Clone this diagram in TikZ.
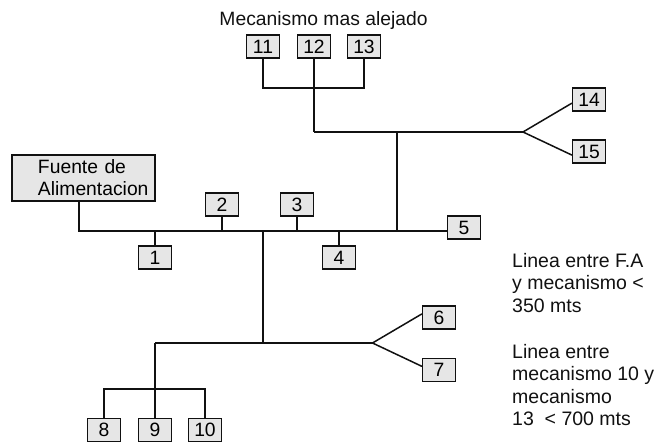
\documentclass[tikz,border=0pt]{standalone}
\usepackage{fontspec}
\setmainfont{Liberation Sans}
\definecolor{boxgray}{HTML}{E6E6E6}
\definecolor{ink}{HTML}{111111}
\tikzset{
  wire/.style={draw=ink,line width=1.5pt,line join=miter},
  numbox/.style={draw=ink,fill=boxgray,line width=1.1pt,minimum width=33pt,minimum height=23pt,inner sep=0pt,font=\fontsize{19.3pt}{21pt}\selectfont},
  srcbox/.style={draw=ink,fill=boxgray,line width=1.1pt,text width=137pt,minimum height=46pt,inner xsep=3pt,inner ysep=0pt,align=left,font=\fontsize{19.3pt}{22pt}\selectfont},
  note/.style={anchor=north west,inner sep=0pt,align=left,font=\fontsize{19.5pt}{22.5pt}\selectfont,text=ink},
  heading/.style={inner sep=0pt,font=\fontsize{19.3pt}{21pt}\selectfont,text=ink}
}
\begin{document}
\begin{tikzpicture}[x=1pt,y=-1pt]
\useasboundingbox (0,0) rectangle (657,443);
% boxes
\node[srcbox] (fa) at (83.5,178) {\hspace*{23pt}Fuente de\\\hspace*{23pt}Alimentacion};
\node[numbox] (n1) at (155,257.5) {1};
\node[numbox] (n2) at (222,204.5) {2};
\node[numbox] (n3) at (297,204.5) {3};
\node[numbox] (n4) at (339,257.5) {4};
\node[numbox] (n5) at (464,227.5) {5};
\node[numbox] (n6) at (439,317.5) {6};
\node[numbox] (n7) at (439,370) {7};
\node[numbox] (n8) at (104,430) {8};
\node[numbox] (n9) at (155,430) {9};
\node[numbox] (n10) at (205,430) {10};
\node[numbox] (n11) at (263,46.5) {11};
\node[numbox] (n12) at (314,46.5) {12};
\node[numbox] (n13) at (364,46.5) {13};
\node[numbox] (n14) at (589,99.5) {14};
\node[numbox] (n15) at (589,151.5) {15};
% junctions
\coordinate (busL) at (79,231);
\coordinate (busA) at (155,231);
\coordinate (busB) at (222,231);
\coordinate (busC) at (263,231);
\coordinate (busD) at (297,231);
\coordinate (busE) at (339,231);
\coordinate (busF) at (397,231);
\coordinate (lowJ) at (263,343);
\coordinate (lowL) at (155,343);
\coordinate (lowR) at (372.5,343);
\coordinate (subL) at (104,389);
\coordinate (subR) at (205,389);
\coordinate (upJ) at (397,132);
\coordinate (upL) at (314,132);
\coordinate (upR) at (523,132);
\coordinate (topL) at (263,88);
\coordinate (topR) at (364,88);
% wires
\draw[wire] (fa.south -| busL) -- (busL) -- (busL -| n5.west);
\draw[wire] (busA) -- (n1.north);
\draw[wire] (busB) -- (n2.south);
\draw[wire] (busD) -- (n3.south);
\draw[wire] (busE) -- (n4.north);
\draw[wire] (busC) -- (lowJ);
\draw[wire] (lowL) -- (lowR);
\draw[wire] (lowL) -- (n9.north);
\draw[wire] (n8.north) -- (subL) -- (subR) -- (n10.north);
\draw[wire] (busF) -- (upJ);
\draw[wire] (upL) -- (upR);
\draw[wire] (upL) -- (n12.south);
\draw[wire] (n11.south) -- (topL) -- (topR) -- (n13.south);
\draw[wire] (lowR) -- (n6.168);
\draw[wire] (lowR) -- (n7.168);
\draw[wire] (upR) -- (n14.192);
\draw[wire] (upR) -- (n15.192);
% texts
\node[heading] (title) at (323.5,21) {Mecanismo mas alejado};
\node[note] (note1) at (512,253) {Linea entre F.A\\y mecanismo <\\350 mts};
\node[note] (note2) at (512,344) {Linea entre\\mecanismo 10 y\\mecanismo\\13\ \ < 700 mts};
\end{tikzpicture}
\end{document}
